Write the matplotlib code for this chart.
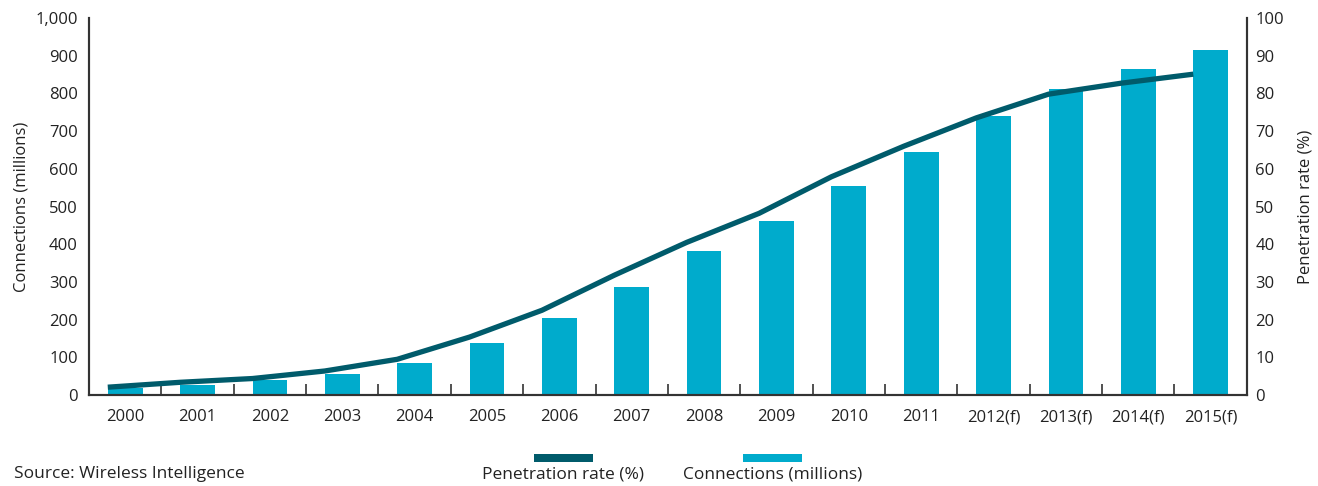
import numpy as np
import matplotlib.pyplot as plt
from matplotlib.patches import Rectangle

years = ['2000', '2001', '2002', '2003', '2004', '2005', '2006', '2007',
         '2008', '2009', '2010', '2011', '2012(f)', '2013(f)', '2014(f)', '2015(f)']
connections = [19, 27, 41, 57, 86, 139, 205, 287, 383, 462, 554, 645, 740, 812, 865, 915]
penetration = [2.1, 3.4, 4.4, 6.4, 9.5, 15.4, 22.5, 31.8, 40.5, 48.2, 57.9, 66.0, 73.5, 79.8, 82.7, 85.1]

bar_color = '#00abcc'
line_color = '#005b6b'
text_color = '#222222'

plt.rcParams['font.family'] = ['Open Sans', 'DejaVu Sans']

fig = plt.figure(figsize=(13.18, 4.86), dpi=100)
ax = fig.add_axes([0.0675, 0.187, 0.8785, 0.776])
ax2 = ax.twinx()

x = np.arange(len(years))
bw = 0.48
ax.bar(x, connections, width=bw, color=bar_color, zorder=2)
ax2.plot(x - bw / 2, penetration, color=line_color, lw=3.8, solid_capstyle='butt', zorder=3)

ax.set_xlim(-0.5, len(years) - 0.5)
ax.set_ylim(0, 1000)
ax2.set_ylim(0, 100)
ax.set_yticks(range(0, 1001, 100))
ax.set_yticklabels([f'{v:,}' for v in range(0, 1001, 100)])
ax2.set_yticks(range(0, 101, 10))

ax.set_xticks(x)
ax.set_xticklabels(years)
ax.set_xticks(np.arange(0.5, len(years) - 1, 1), minor=True)
ax.tick_params(axis='x', which='major', length=0, pad=10, labelsize=12, colors=text_color)
ax.tick_params(axis='x', which='minor', direction='in', length=8, width=1.2, color='#333333')
ax.tick_params(axis='y', length=0, pad=8, labelsize=12, labelcolor=text_color)
ax2.tick_params(axis='y', length=0, pad=6, labelsize=12, labelcolor=text_color)

for a in (ax, ax2):
    a.spines['top'].set_visible(False)
    for s in ('left', 'right', 'bottom'):
        a.spines[s].set_color('#333333')
        a.spines[s].set_linewidth(1.5)

ax.set_ylabel('Connections (millions)', fontsize=12, color=text_color, labelpad=4)
ax2.set_ylabel('Penetration rate (%)', fontsize=12, color=text_color, labelpad=10)
ax2.set_zorder(ax.get_zorder() + 1)
ax2.patch.set_visible(False)

# legend drawn below the axes: colour swatch above each label
W, H = 1318, 486
for x0, col, label in [(534, line_color, 'Penetration rate (%)'),
                       (743, bar_color, 'Connections (millions)')]:
    fig.add_artist(Rectangle((x0 / W, 1 - 462 / H), 59 / W, 8 / H,
                             transform=fig.transFigure, color=col, lw=0))
    fig.text((x0 + 29.5) / W, 1 - 474 / H, label, ha='center', va='center',
             fontsize=12.5, color=text_color)

fig.text(14 / W, 1 - 474 / H, 'Source: Wireless Intelligence', ha='left', va='center',
         fontsize=12.5, color=text_color)

fig.savefig('out.png', dpi=100)
